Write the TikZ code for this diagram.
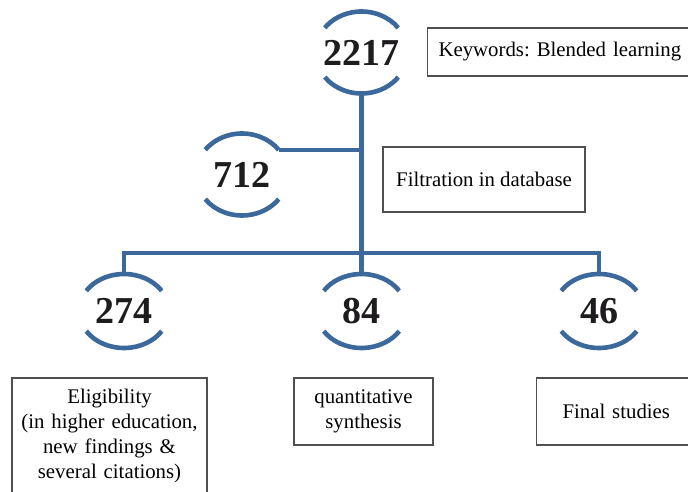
\documentclass[tikz,border=0pt]{standalone}
\usepackage{fontspec}
\setmainfont{Liberation Serif}
\usetikzlibrary{calc}
\frenchspacing
\definecolor{arcblue}{RGB}{60,105,155}
\definecolor{boxgray}{RGB}{80,80,80}
\definecolor{numblack}{RGB}{30,28,30}
\tikzset{
  numnode/.style={inner sep=0pt, text=numblack, font=\fontsize{38}{43}\selectfont\bfseries},
  textbox/.style={draw=boxgray, line width=1.1pt, font=\fontsize{20.8}{25}\selectfont, text=black},
  plaintext/.style={inner sep=0pt, font=\fontsize{20.8}{25}\selectfont, text=black},
  blueline/.style={draw=arcblue, line width=4.6pt},
}
\begin{document}
\begin{tikzpicture}[x=1pt,y=1pt]
\useasboundingbox (0,0) rectangle (688,492);
\clip (0,0) rectangle (688,492);
\fill[white] (0,0) rectangle (688,492);

% number nodes
\node[numnode] (n2217) at (361.5,439.5) {2217};
\node[numnode] (n712) at (242,317.5) {712};
\node[numnode] (n274) at (124,181) {274};
\node[numnode] (n84) at (361.5,181) {84};
\node[numnode] (n46) at (599,181) {46};

% arcs around upper numbers
\foreach \n in {n2217,n712}{
  \draw[blueline] (\n.center) ++(37:46 and 41) arc[start angle=37, end angle=143, x radius=46, y radius=41];
  \draw[blueline] (\n.center) ++(217:46 and 41) arc[start angle=217, end angle=323, x radius=46, y radius=41];
}
% arcs around lower numbers
\foreach \n in {n274,n84,n46}{
  \draw[blueline] (\n.center) ++(33:45 and 37) arc[start angle=33, end angle=147, x radius=45, y radius=37];
  \draw[blueline] (\n.center) ++(213:45 and 37) arc[start angle=213, end angle=327, x radius=45, y radius=37];
}

% connection points
\coordinate (b2217) at ($(n2217.center)+(0,-41)$);
\coordinate (e712) at ($(n712.center)+(37:46 and 41)$);
\coordinate (t274) at ($(n274.center)+(0,37)$);
\coordinate (t84) at ($(n84.center)+(0,37)$);
\coordinate (t46) at ($(n46.center)+(0,37)$);
\coordinate (jbar) at (361.5,239);

% connectors
\draw[blueline] (b2217) -- (t84);
\draw[blueline] (e712) -- (e712 -| b2217);
\draw[blueline, line join=miter] (t274) |- (jbar) -| (t46);

% text boxes
\node[textbox, anchor=west, minimum height=48pt, inner xsep=11pt, text width=270pt, align=left] (kw) at (427,440) {Keywords: Blended learning};
\node[textbox, minimum width=202pt, minimum height=65pt] (filt) at (484,312.5) {Filtration in database};
\draw[draw=boxgray, line width=1.1pt] (12,-10) rectangle (207,114);
\node[plaintext, anchor=north, text width=195pt, align=center] (elig) at (109.5,103) {Eligibility\\(in higher education,\\new findings \&\\several citations)};
\node[textbox, minimum width=139pt, minimum height=67pt, align=center] (quant) at (363.5,80.5) {quantitative\\synthesis};
\node[textbox, anchor=west, minimum height=67pt, inner xsep=26pt, text width=180pt, align=left] (final) at (536,80.5) {Final studies};
\end{tikzpicture}
\end{document}
